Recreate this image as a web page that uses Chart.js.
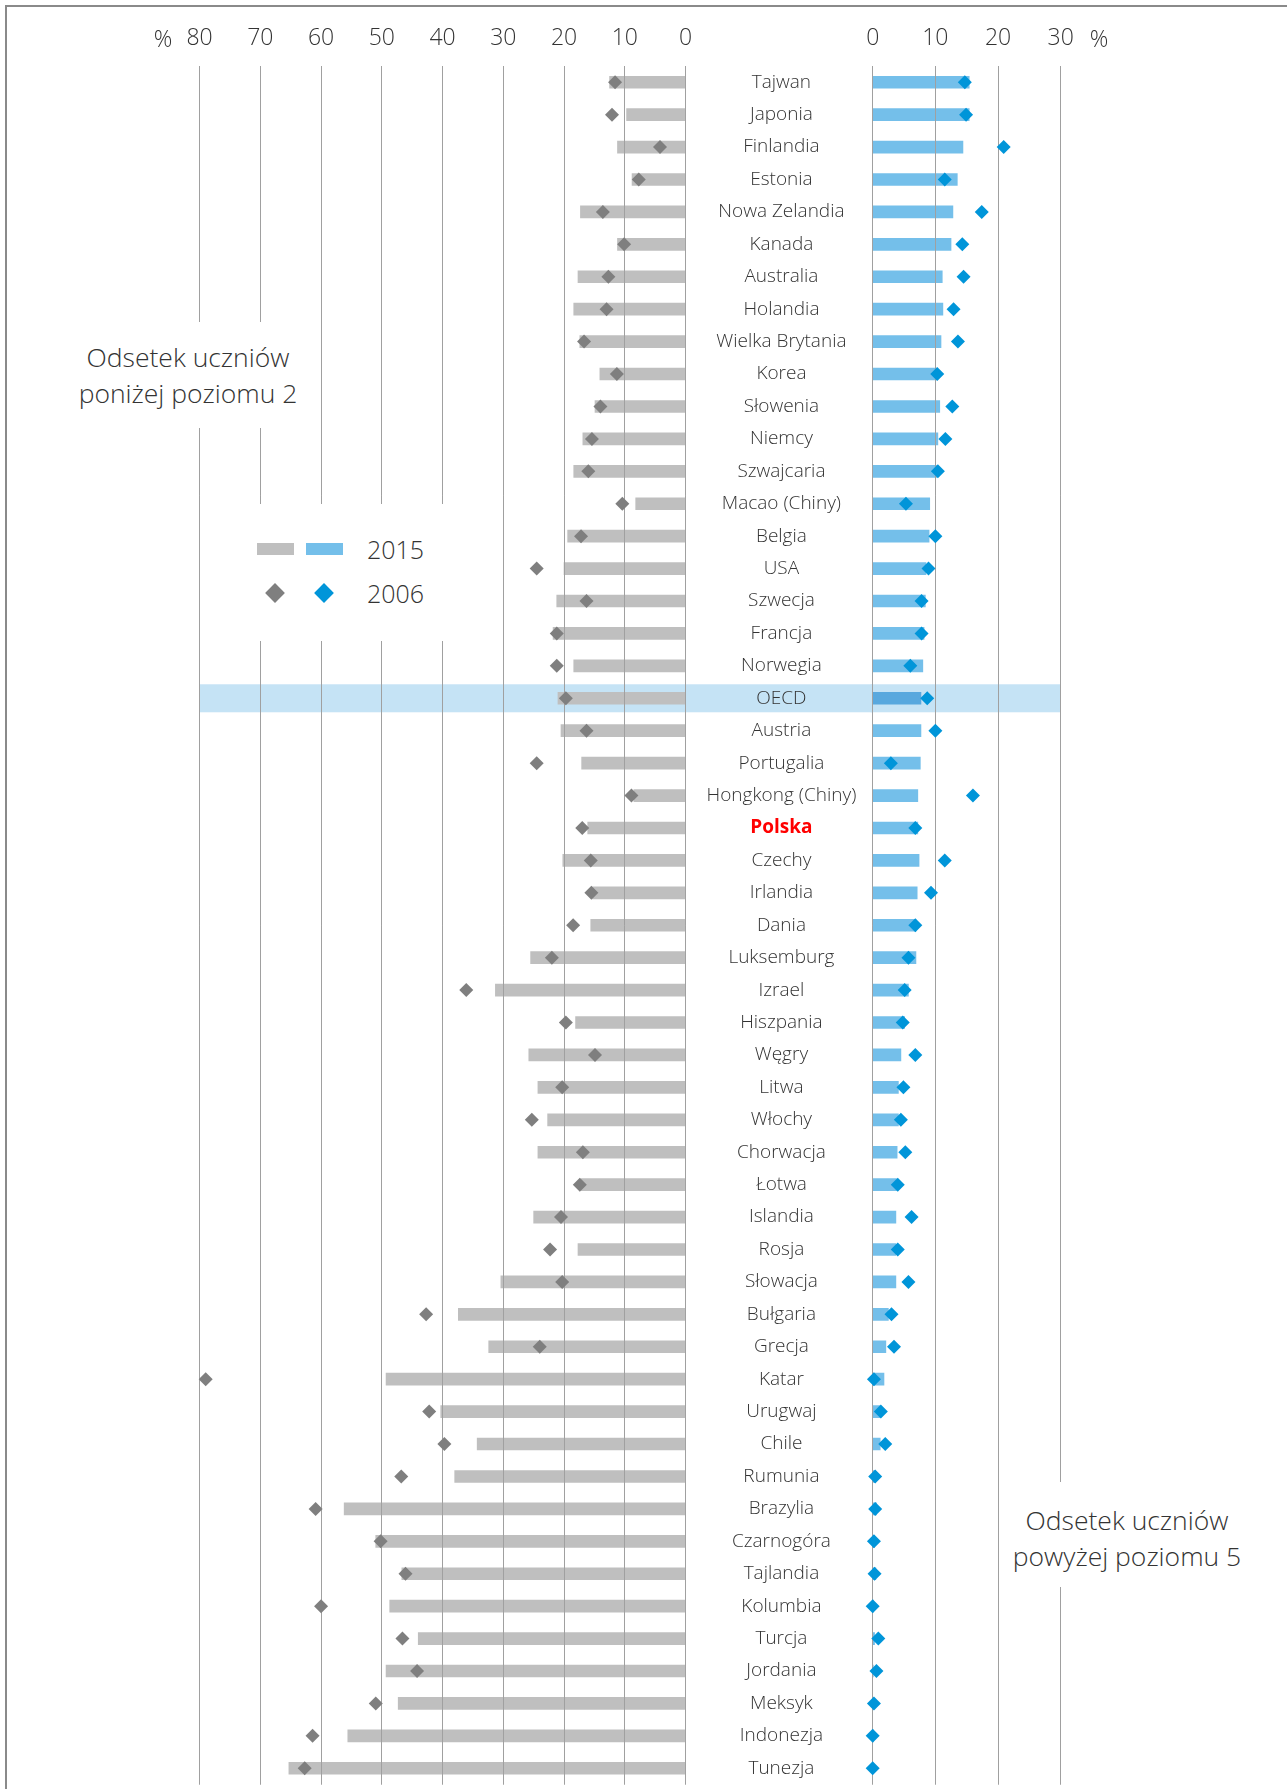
<!DOCTYPE html>
<html lang="pl">
<head>
<meta charset="utf-8">
<title>Odsetek uczniów poniżej poziomu 2 i powyżej poziomu 5</title>
<script src="https://cdn.jsdelivr.net/npm/chart.js@4.4.1/dist/chart.umd.min.js"></script>
<style>
  html, body { margin: 0; padding: 0; background: #fff; }
  body { font-family: "Open Sans", "DejaVu Sans", sans-serif; font-weight: 300; color: #333; }
  #page { position: relative; width: 1287px; height: 1789px; overflow: hidden; }
  #frame { position: absolute; left: 5px; top: 5px; width: 1300px; height: 1800px;
           border-top: 2px solid #8a8a8a; border-left: 2px solid #8a8a8a; }
  canvas { position: absolute; top: 0; }
  #leftChart { left: 0; }
  #rightChart { left: 850px; }
  .note { position: absolute; background: #fff; text-align: center; font-size: 26.5px;
          line-height: 36px; white-space: nowrap; }
  .pct { position: absolute; top: 22.5px; width: 30px; margin-left: -15px; text-align: center;
         font-size: 23px; line-height: 30px; }
  .patch { position: absolute; width: 37px; height: 12px; }
  .dia { position: absolute; width: 14px; height: 14px; transform: rotate(45deg); }
  .ltext { position: absolute; left: 367px; font-size: 25px; line-height: 36px; }
</style>
</head>
<body>
<div id="page">
  <div id="frame"></div>
  <canvas id="leftChart" width="872" height="1800"></canvas>
  <canvas id="rightChart" width="437" height="1800"></canvas>

  <div class="pct" style="left:163px">%</div>
  <div class="pct" style="left:1099px">%</div>

  <!-- white boxes cut the grid lines where the notes sit -->
  <div class="note" style="left:70px;top:322px;width:236px;height:89px;padding-top:17px">Odsetek uczniów<br>poniżej poziomu 2</div>
  <div class="note" style="left:215px;top:504px;width:265px;height:137px"></div>
  <div class="note" style="left:1003px;top:1482px;width:248px;height:85px;padding-top:20px">Odsetek uczniów<br>powyżej poziomu 5</div>

  <div class="patch" style="left:257px;top:543px;background:#bfbfbf"></div>
  <div class="patch" style="left:306px;top:543px;background:#74bfea"></div>
  <div class="ltext" style="top:531px">2015</div>
  <div class="dia" style="left:268px;top:586px;background:#7f7f7f"></div>
  <div class="dia" style="left:317px;top:586px;background:#0095d9"></div>
  <div class="ltext" style="top:575px">2006</div>
</div>

<script>
const countries = ['Tajwan', 'Japonia', 'Finlandia', 'Estonia', 'Nowa Zelandia', 'Kanada', 'Australia',
  'Holandia', 'Wielka Brytania', 'Korea', 'Słowenia', 'Niemcy', 'Szwajcaria', 'Macao (Chiny)', 'Belgia',
  'USA', 'Szwecja', 'Francja', 'Norwegia', 'OECD', 'Austria', 'Portugalia', 'Hongkong (Chiny)', 'Polska',
  'Czechy', 'Irlandia', 'Dania', 'Luksemburg', 'Izrael', 'Hiszpania', 'Węgry', 'Litwa', 'Włochy',
  'Chorwacja', 'Łotwa', 'Islandia', 'Rosja', 'Słowacja', 'Bułgaria', 'Grecja', 'Katar', 'Urugwaj',
  'Chile', 'Rumunia', 'Brazylia', 'Czarnogóra', 'Tajlandia', 'Kolumbia', 'Turcja', 'Jordania', 'Meksyk',
  'Indonezja', 'Tunezja'];

// % below level 2
const below2015 = [12.5, 9.7, 11.2, 8.8, 17.3, 11.2, 17.7, 18.4, 17.4, 14.1, 14.9, 16.9, 18.4, 8.2, 19.4,
  20.0, 21.2, 21.8, 18.4, 21.0, 20.5, 17.1, 8.5, 16.1, 20.2, 15.3, 15.6, 25.5, 31.3, 18.1, 25.8, 24.3, 22.7,
  24.3, 17.2, 25.0, 17.7, 30.4, 37.4, 32.4, 49.3, 40.3, 34.3, 38.0, 56.2, 51.0, 46.7, 48.7, 44.0, 49.3,
  47.3, 55.6, 65.3];
const below2006 = [11.6, 12.1, 4.2, 7.7, 13.6, 10.1, 12.7, 13.0, 16.7, 11.3, 14.0, 15.4, 16.0, 10.4, 17.2,
  24.5, 16.3, 21.2, 21.2, 19.7, 16.3, 24.5, 8.9, 17.0, 15.6, 15.5, 18.5, 22.0, 36.1, 19.7, 14.9, 20.3, 25.3,
  16.9, 17.4, 20.5, 22.3, 20.3, 42.7, 24.0, 79.0, 42.2, 39.7, 46.8, 60.9, 50.2, 46.1, 60.0, 46.6, 44.2,
  51.0, 61.4, 62.7];

// % above level 5
const above2015 = [15.4, 15.4, 14.4, 13.5, 12.8, 12.5, 11.1, 11.2, 10.9, 10.2, 10.7, 10.4, 10.2, 9.1, 9.0,
  8.5, 8.4, 8.2, 8.0, 7.7, 7.7, 7.6, 7.2, 7.2, 7.4, 7.1, 6.9, 6.9, 5.7, 5.1, 4.5, 4.1, 4.1, 3.9, 3.8, 3.7,
  3.7, 3.7, 2.5, 2.1, 1.8, 1.2, 1.2, 0.4, 0.6, 0.3, 0.5, 0.1, 0.3, 0.1, 0.1, 0.1, 0.0];
const above2006 = [14.7, 14.9, 20.9, 11.5, 17.4, 14.3, 14.5, 12.9, 13.6, 10.3, 12.7, 11.6, 10.4, 5.3, 10.0,
  8.9, 7.8, 7.8, 6.0, 8.7, 10.0, 2.9, 16.0, 6.8, 11.5, 9.3, 6.8, 5.7, 5.1, 4.8, 6.8, 4.9, 4.5, 5.2, 4.0, 6.2,
  4.0, 5.7, 3.0, 3.4, 0.2, 1.3, 2.0, 0.4, 0.4, 0.2, 0.3, 0.0, 0.9, 0.6, 0.2, 0.0, 0.0];

const leftTicks = [0, 10, 20, 30, 40, 50, 60, 70, 80];
const rightTicks = [0, 10, 20, 30];

const FONT = '"Open Sans", "DejaVu Sans", sans-serif';
const GRID = '#a0a0a0';

// light blue strip behind the OECD row
const oecdBand = {
    id: 'oecdBand',
    beforeDraw(chart, args, opts) {
        const ctx = chart.ctx;
        const a = chart.chartArea;
        const y = chart.scales.y.getPixelForValue(countries.indexOf('OECD'));
        const x1 = opts.toEdge ? a.left : a.left - 2;
        const x2 = opts.toEdge ? chart.width : a.right;
        ctx.save();
        ctx.fillStyle = '#c5e3f5';
        ctx.fillRect(x1, y - 14, x2 - x1, 28);
        ctx.restore();
    }
};

// redraw the value grid after the bars so the lines show through them (diamonds stay on top)
const gridOverBars = {
    id: 'gridOverBars',
    afterDatasetDraw(chart, args) {
        if (args.meta.type === 'bar') {
            chart.scales.x.drawGrid(chart.chartArea);
        }
    }
};

function isPolska(c) {
    return c.tick && c.tick.label === 'Polska';
}

new Chart(document.getElementById('leftChart'), {
    type: 'bar',
    data: {
        labels: countries,
        datasets: [
            {
                type: 'line',
                label: '2006',
                data: below2006,
                indexAxis: 'y',
                showLine: false,
                pointStyle: 'rectRot',
                pointRadius: 7,
                pointHoverRadius: 7,
                pointBackgroundColor: '#7f7f7f',
                pointBorderWidth: 0,
                clip: false,
                order: 1
            },
            {
                label: '2015',
                data: below2015,
                backgroundColor: '#bfbfbf',
                barThickness: 12,
                order: 2
            }
        ]
    },
    options: {
        indexAxis: 'y',
        responsive: false,
        animation: false,
        layout: { padding: { left: 199.6, right: 0, top: 0, bottom: 15.5 } },
        plugins: {
            legend: { display: false },
            tooltip: { enabled: false },
            oecdBand: { toEdge: true }
        },
        scales: {
            x: {
                position: 'top',
                reverse: true,
                min: 0,
                max: 80,
                afterBuildTicks: s => { s.ticks = leftTicks.map(v => ({ value: v })); },
                afterFit: s => { s.height = 66; },
                grid: { color: GRID, lineWidth: 1, drawTicks: false },
                border: { display: false },
                ticks: { font: { family: FONT, size: 23, weight: 300 }, color: '#333', padding: 14 }
            },
            y: {
                position: 'right',
                grid: { display: false },
                border: { display: false },
                afterFit: s => { s.width = 186.5; s.paddingTop = 0; s.paddingBottom = 0; },
                ticks: {
                    autoSkip: false,
                    crossAlign: 'center',
                    padding: 13,
                    color: c => isPolska(c) ? '#ff0000' : '#333',
                    font: c => ({ family: FONT, size: 19, weight: isPolska(c) ? 'bold' : 300 })
                }
            }
        }
    },
    plugins: [oecdBand, gridOverBars]
});

new Chart(document.getElementById('rightChart'), {
    type: 'bar',
    data: {
        labels: countries,
        datasets: [
            {
                type: 'line',
                label: '2006',
                data: above2006,
                indexAxis: 'y',
                showLine: false,
                pointStyle: 'rectRot',
                pointRadius: 7,
                pointHoverRadius: 7,
                pointBackgroundColor: '#0095d9',
                pointBorderWidth: 0,
                clip: false,
                order: 1
            },
            {
                label: '2015',
                data: above2015,
                backgroundColor: countries.map(c => c === 'OECD' ? '#58a8de' : '#74bfea'),
                barThickness: 12,
                order: 2
            }
        ]
    },
    options: {
        indexAxis: 'y',
        responsive: false,
        animation: false,
        layout: { padding: { left: 22.7, right: 226.3, top: 0, bottom: 15.5 } },
        plugins: {
            legend: { display: false },
            tooltip: { enabled: false },
            oecdBand: { toEdge: false }
        },
        scales: {
            x: {
                position: 'top',
                min: 0,
                max: 30,
                afterBuildTicks: s => { s.ticks = rightTicks.map(v => ({ value: v })); },
                afterFit: s => { s.height = 66; },
                grid: { color: GRID, lineWidth: 1, drawTicks: false },
                border: { display: false },
                ticks: { font: { family: FONT, size: 23, weight: 300 }, color: '#333', padding: 14 }
            },
            y: {
                display: false,
                afterFit: s => { s.paddingTop = 0; s.paddingBottom = 0; }
            }
        }
    },
    plugins: [oecdBand, gridOverBars]
});
</script>
</body>
</html>
